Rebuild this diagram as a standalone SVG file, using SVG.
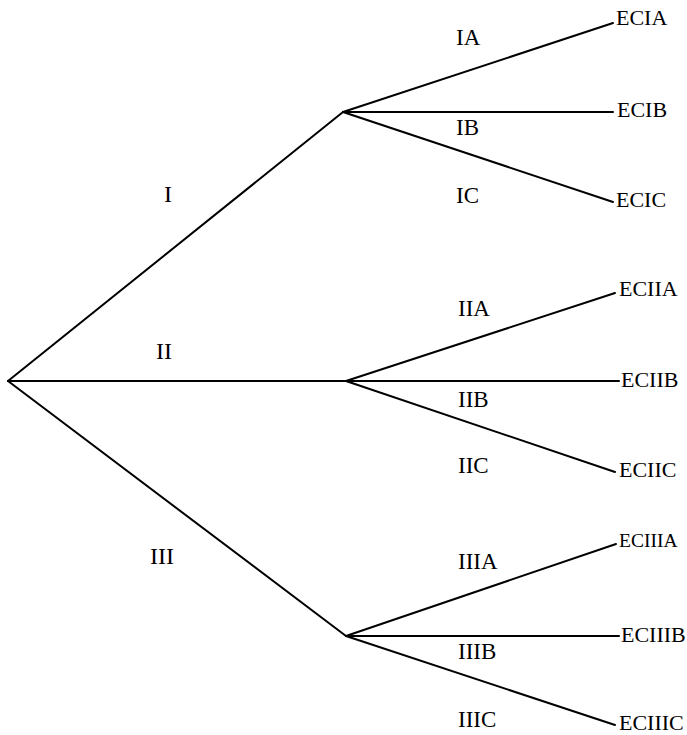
<svg xmlns="http://www.w3.org/2000/svg" width="687" height="735" viewBox="0 0 687 735">
  <style>
    .edge { stroke: #000; stroke-width: 2; fill: none; stroke-linecap: round; }
    text { font-family: "Liberation Serif", "Times New Roman", serif; fill: #000; }
    .lvl1 { font-size: 24px; }
    .lvl2 { font-size: 23px; }
    .leaf { font-size: 22px; }
    .leaf-sm { font-size: 19.5px; }
  </style>
  <rect width="687" height="735" fill="#fff"/>

  <!-- branches -->
  <g id="connectors">
    <line class="edge" x1="8" y1="381" x2="343" y2="112"/>
    <line class="edge" x1="8" y1="381" x2="346" y2="381"/>
    <line class="edge" x1="8" y1="381" x2="346" y2="636"/>

    <line class="edge" x1="343" y1="112" x2="613" y2="23"/>
    <line class="edge" x1="343" y1="112" x2="613" y2="112"/>
    <line class="edge" x1="343" y1="112" x2="613" y2="202"/>

    <line class="edge" x1="346" y1="381" x2="615" y2="293"/>
    <line class="edge" x1="346" y1="381" x2="619" y2="381"/>
    <line class="edge" x1="346" y1="381" x2="615" y2="472"/>

    <line class="edge" x1="346" y1="636" x2="616" y2="544"/>
    <line class="edge" x1="346" y1="636" x2="619" y2="636"/>
    <line class="edge" x1="346" y1="636" x2="615" y2="725"/>
  </g>

  <!-- first-level branch labels -->
  <g id="label-I"><text class="lvl1" x="164" y="202">I</text></g>
  <g id="label-II"><text class="lvl1" x="156" y="359">II</text></g>
  <g id="label-III"><text class="lvl1" x="150" y="564">III</text></g>

  <!-- second-level branch labels -->
  <g id="label-IA"><text class="lvl2" x="456" y="45">IA</text></g>
  <g id="label-IB"><text class="lvl2" x="456" y="135">IB</text></g>
  <g id="label-IC"><text class="lvl2" x="456" y="203">IC</text></g>
  <g id="label-IIA"><text class="lvl2" x="458" y="316">IIA</text></g>
  <g id="label-IIB"><text class="lvl2" x="458" y="407">IIB</text></g>
  <g id="label-IIC"><text class="lvl2" x="458" y="473">IIC</text></g>
  <g id="label-IIIA"><text class="lvl2" x="458" y="569">IIIA</text></g>
  <g id="label-IIIB"><text class="lvl2" x="458" y="659">IIIB</text></g>
  <g id="label-IIIC"><text class="lvl2" x="458" y="727">IIIC</text></g>

  <!-- outcomes -->
  <g id="node-ECIA"><text class="leaf" x="616" y="25">ECIA</text></g>
  <g id="node-ECIB"><text class="leaf" x="617" y="117">ECIB</text></g>
  <g id="node-ECIC"><text class="leaf" x="616" y="207">ECIC</text></g>
  <g id="node-ECIIA"><text class="leaf" x="619" y="296">ECIIA</text></g>
  <g id="node-ECIIB"><text class="leaf" x="621" y="387">ECIIB</text></g>
  <g id="node-ECIIC"><text class="leaf" x="619" y="477">ECIIC</text></g>
  <g id="node-ECIIIA"><text class="leaf-sm" x="619" y="547">ECIIIA</text></g>
  <g id="node-ECIIIB"><text class="leaf" x="621" y="642">ECIIIB</text></g>
  <g id="node-ECIIIC"><text class="leaf" x="619" y="730">ECIIIC</text></g>
</svg>
